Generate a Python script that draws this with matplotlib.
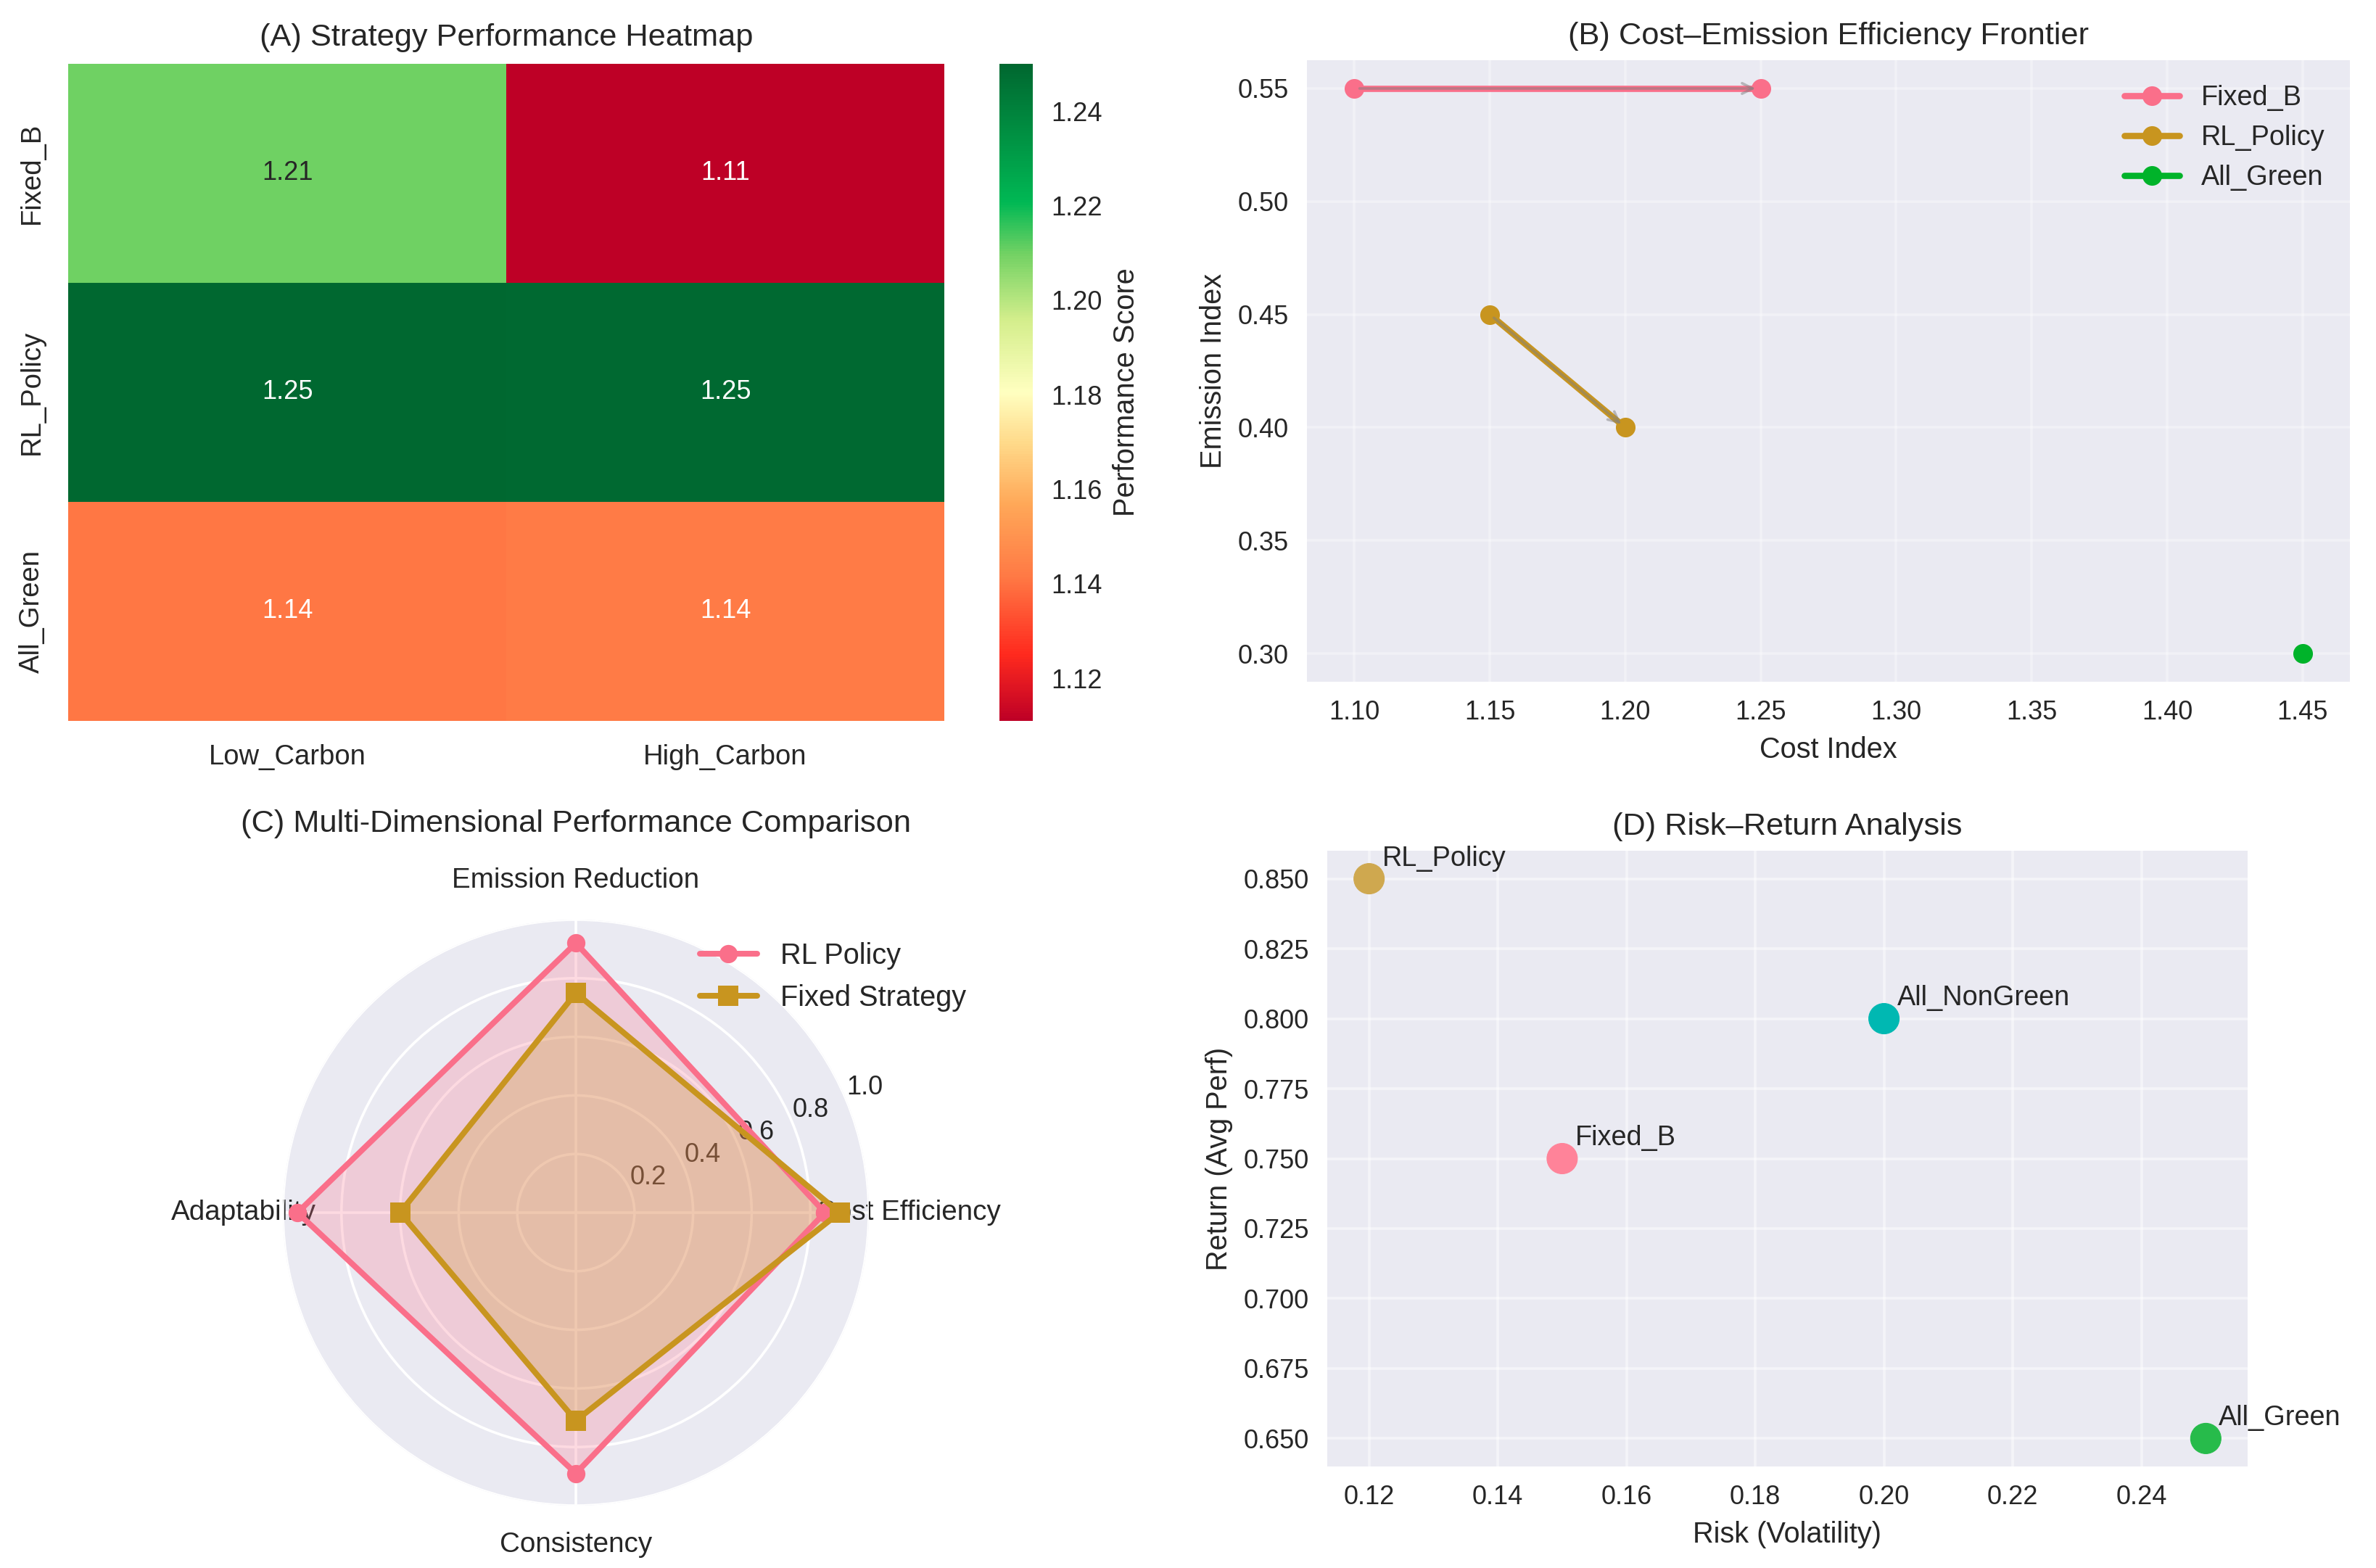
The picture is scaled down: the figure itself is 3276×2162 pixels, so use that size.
import numpy as np
import matplotlib
matplotlib.use("Agg")
import matplotlib.pyplot as plt
from matplotlib.colors import LinearSegmentedColormap
import seaborn as sns

plt.style.use("seaborn-v0_8")
plt.rcParams["font.family"] = ["Liberation Sans", "DejaVu Sans"]

# ---------------- data ----------------
strategies = ["Fixed_B", "RL_Policy", "All_Green"]
scenarios = ["Low_Carbon", "High_Carbon"]
perf_low = [1.210, 1.250, 1.141]
perf_high = [1.111, 1.249, 1.142]

frontier_names = ["Fixed_B", "RL_Policy", "All_Green"]
frontier_cost = [[1.10, 1.25], [1.15, 1.20], [1.45]]
frontier_emis = [[0.55, 0.55], [0.45, 0.40], [0.30]]

radar_cats = ["Cost Efficiency", "Emission Reduction", "Adaptability", "Consistency"]
radar_rl = [0.85, 0.92, 0.95, 0.89]
radar_fixed = [0.90, 0.75, 0.60, 0.71]

rr_names = ["RL_Policy", "All_NonGreen", "Fixed_B", "All_Green"]
rr_risk = [0.12, 0.20, 0.15, 0.25]
rr_return = [0.85, 0.80, 0.75, 0.65]

# ---------------- styles ----------------
PINK = "#fa6f8a"
GOLD = "#c8951f"
GREEN_B = "#00b32a"
rr_colors = ["#cfa84f", "#00b8b2", "#ff8399", "#27bb4b"]
TXT = "#262626"

cmap = LinearSegmentedColormap.from_list(
    "perf",
    [(0.00, "#be0026"), (0.10, "#ff2a1e"), (0.22, "#ff7a45"), (0.33, "#ffa858"),
     (0.42, "#ffd888"), (0.50, "#ffffc0"), (0.61, "#d4ee8c"), (0.71, "#74d264"),
     (0.79, "#00b854"), (1.00, "#006830")])

W, H = 3276, 2162
DPI = 260
fig = plt.figure(figsize=(W / DPI, H / DPI), dpi=DPI)


def box(x0, y0, x1, y1):
    return [x0 / W, 1 - y1 / H, (x1 - x0) / W, (y1 - y0) / H]


# ---------------- (A) heatmap ----------------
axA = fig.add_axes(box(94, 88, 1302, 994))
caxA = fig.add_axes(box(1378, 88, 1424, 994))
mat = np.array([perf_low, perf_high]).T
sns.heatmap(mat, ax=axA, cbar_ax=caxA, annot=True, fmt=".2f", cmap=cmap,
            xticklabels=scenarios, yticklabels=strategies,
            annot_kws={"size": 10}, cbar_kws={"label": "Performance Score"})
axA.set_title("(A) Strategy Performance Heatmap", fontsize=12, color=TXT, pad=7)
axA.tick_params(axis="both", labelsize=10.6, colors=TXT, length=0, pad=9)
caxA.tick_params(labelsize=10, colors=TXT, length=0, pad=7)
caxA.yaxis.label.set_size(11)
caxA.yaxis.label.set_color(TXT)

# ---------------- (B) frontier ----------------
axB = fig.add_axes(box(1802, 83, 3240, 940))
colsB = [PINK, GOLD, GREEN_B]
for name, cx, ey, c in zip(frontier_names, frontier_cost, frontier_emis, colsB):
    axB.plot(cx, ey, "o-", color=c, lw=2.4, ms=7.5, label=name)
    for i in range(len(cx) - 1):
        axB.annotate("", xy=(cx[i + 1], ey[i + 1]), xytext=(cx[i], ey[i]),
                     arrowprops=dict(arrowstyle="->", color="gray", alpha=0.5, lw=1))
axB.set_title("(B) Cost\u2013Emission Efficiency Frontier", fontsize=12, color=TXT)
axB.set_xlabel("Cost Index", fontsize=11, color=TXT)
axB.set_ylabel("Emission Index", fontsize=11, color=TXT)
axB.tick_params(labelsize=10, colors=TXT)
axB.grid(True, color="white", alpha=0.35, lw=1)
axB.legend(loc="upper right", fontsize=10.5, frameon=False)

# ---------------- (C) radar ----------------
axC = fig.add_axes(box(390, 1268, 1198, 2076), projection="polar")
angles = np.linspace(0, 2 * np.pi, len(radar_cats), endpoint=False).tolist()
ang_c = angles + angles[:1]
rl_c = radar_rl + radar_rl[:1]
fx_c = radar_fixed + radar_fixed[:1]
axC.plot(ang_c, rl_c, "o-", color=PINK, lw=2.2, ms=7, label="RL Policy")
axC.fill(ang_c, rl_c, color=PINK, alpha=0.25)
axC.plot(ang_c, fx_c, "s-", color=GOLD, lw=2.2, ms=7.5, label="Fixed Strategy")
axC.fill(ang_c, fx_c, color=GOLD, alpha=0.25)
axC.set_xticks(angles)
axC.set_xticklabels(radar_cats, fontsize=10.7, color=TXT)
axC.set_ylim(0, 1)
axC.set_yticks([0.2, 0.4, 0.6, 0.8, 1.0])
axC.set_yticklabels(["0.2", "0.4", "0.6", "0.8", "1.0"], fontsize=10, color=TXT)
axC.tick_params(axis="x", pad=8)
axC.set_title("(C) Multi-Dimensional Performance Comparison", fontsize=12,
              color=TXT, y=1.15, pad=0)
axC.legend(loc="upper right", bbox_to_anchor=(1.21, 1.006), fontsize=11, frameon=False)

# ---------------- (D) risk-return ----------------
axD = fig.add_axes(box(1830, 1173, 3099, 2022))
axD.scatter(rr_risk, rr_return, s=135, c=rr_colors, zorder=3)
for n, x, y in zip(rr_names, rr_risk, rr_return):
    axD.annotate(n, (x, y), xytext=(5, 5), textcoords="offset points",
                 fontsize=10.5, color=TXT)
axD.set_title("(D) Risk\u2013Return Analysis", fontsize=12, color=TXT)
axD.set_xlabel("Risk (Volatility)", fontsize=11, color=TXT)
axD.set_ylabel("Return (Avg Perf)", fontsize=11, color=TXT)
axD.tick_params(labelsize=10, colors=TXT)
axD.grid(True, color="white", alpha=0.5, lw=1)

fig.savefig("out.png", dpi=DPI)
